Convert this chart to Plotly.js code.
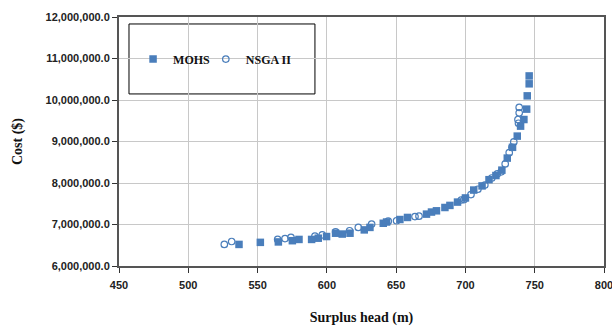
<!DOCTYPE html>
<html><head><meta charset="utf-8">
<script src="https://cdn.plot.ly/plotly-3.0.1.min.js"></script>
<style>html,body{margin:0;padding:0;background:#fff}#chart{width:612px;height:326px}</style>
</head><body><div id="chart"></div>
<script>
const mohsHead = [536.6,552,565,575.1,579.9,589,593.8,599.8,606.3,611.1,616.7,627,631.1,640.7,643.1,652.7,658.2,671.9,675.5,679.1,685.2,688.8,694.3,700,706,712,717,722,726.3,730.2,734,737.4,739.8,742.2,744.2,744.6,746,746];
const mohsCost = [6520000,6570000,6580000,6610000,6640000,6640000,6670000,6710000,6790000,6770000,6790000,6870000,6930000,7030000,7060000,7120000,7170000,7250000,7300000,7330000,7410000,7460000,7540000,7640000,7830000,7930000,8080000,8180000,8310000,8600000,8860000,9130000,9370000,9530000,9780000,10100000,10390000,10580000];
const nsgaHead = [526,531.3,564.5,569.8,574.1,591.4,596.7,606.3,616.4,622.7,632.3,644.3,650.3,663.6,666.5,697,699,704,709,714,719,723,725.8,728.7,731.6,733.5,734.9,738.3,737.9,738.8,738.8];
const nsgaCost = [6520000,6590000,6640000,6660000,6690000,6720000,6750000,6820000,6850000,6930000,7010000,7080000,7090000,7190000,7200000,7590000,7600000,7720000,7850000,7950000,8120000,8220000,8270000,8460000,8730000,8860000,8990000,9440000,9530000,9690000,9820000];
const seriesNames = ["MOHS", "NSGA II"];
const blue = "#4a7ebb";
const traces = [
  {x: mohsHead, y: mohsCost, name: seriesNames[0], type: "scatter", mode: "markers", legend: "legend",
   marker: {symbol: "square", size: 7.5, color: blue}},
  {x: nsgaHead, y: nsgaCost, name: seriesNames[1], type: "scatter", mode: "markers", legend: "legend2",
   marker: {symbol: "circle-open", size: 6.5, color: blue, line: {width: 1.2, color: blue}}}
];
const tickFont = {family: "Liberation Sans, Arial, sans-serif", size: 11, color: "#222", weight: "bold"};
const legendFont = {family: "Liberation Serif, Times New Roman, serif", size: 12, color: "#111", weight: "bold"};
const layout = {
  width: 612, height: 326,
  margin: {l: 119, r: 8, t: 17, b: 60},
  paper_bgcolor: "#fff", plot_bgcolor: "#fff",
  showlegend: true,
  xaxis: {range: [450, 800], dtick: 50, tick0: 450, showgrid: true, gridcolor: "#c8c8c8", gridwidth: 1,
    zeroline: false, showline: true, linecolor: "#555", linewidth: 2, mirror: true,
    ticks: "outside", ticklen: 5, tickcolor: "#333", tickfont: tickFont, ticklabeloverflow: "allow",
    ticklabelstandoff: 3,
    title: {text: "Surplus head (m)", font: {family: "Liberation Serif, Times New Roman, serif", size: 14, color: "#111", weight: "bold"}, standoff: 24}},
  yaxis: {range: [6000000, 12000000], dtick: 1000000, tickformat: ",.1f", showgrid: true, gridcolor: "#c8c8c8", gridwidth: 1,
    zeroline: false, showline: true, linecolor: "#555", linewidth: 2, mirror: true,
    ticks: "outside", ticklen: 5, tickcolor: "#333", tickfont: tickFont,
    title: {text: "Cost ($)", font: {family: "Liberation Serif, Times New Roman, serif", size: 14, color: "#111", weight: "bold"}, standoff: 20}},
  shapes: [{type: "rect", xref: "paper", yref: "paper", x0: 0.0206, x1: 0.404, y0: 0.691, y1: 0.972,
    line: {color: "#000", width: 1}, fillcolor: "#fff", layer: "below"}],
  legend: {orientation: "h", x: 0.029, y: 0.831, xanchor: "left", yanchor: "middle",
    bgcolor: "rgba(0,0,0,0)", borderwidth: 0, itemwidth: 30, font: legendFont},
  legend2: {orientation: "h", x: 0.179, y: 0.831, xanchor: "left", yanchor: "middle",
    bgcolor: "rgba(0,0,0,0)", borderwidth: 0, itemwidth: 30, font: legendFont}
};
Plotly.newPlot("chart", traces, layout, {displayModeBar: false, staticPlot: true});
</script></body></html>
